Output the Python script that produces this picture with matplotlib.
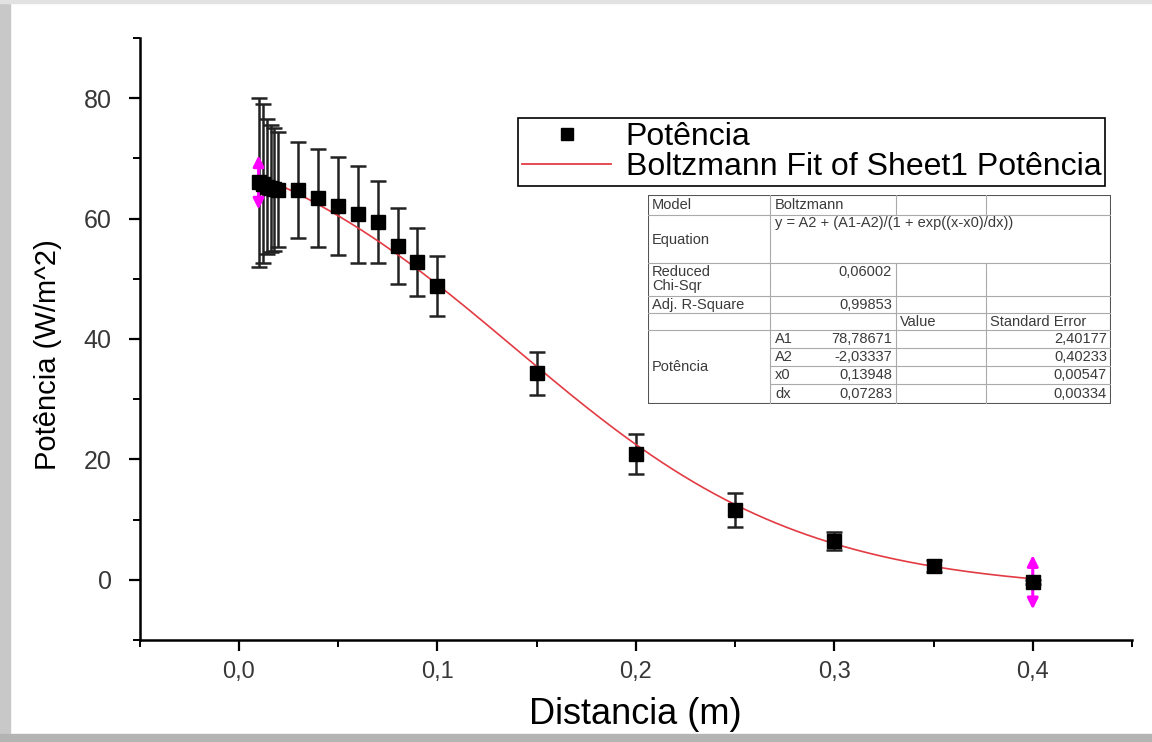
import numpy as np
import matplotlib
matplotlib.use("Agg")
import matplotlib.pyplot as plt
from matplotlib.lines import Line2D
from matplotlib.patches import Rectangle
from matplotlib.ticker import MultipleLocator, FuncFormatter

plt.rcParams['font.family'] = ['Liberation Sans', 'DejaVu Sans']

dist = [0.010, 0.012, 0.014, 0.016, 0.018, 0.020, 0.03, 0.04, 0.05, 0.06,
        0.07, 0.08, 0.09, 0.10, 0.15, 0.20, 0.25, 0.30, 0.35, 0.40]
pot = [66.0, 65.8, 65.3, 65.0, 64.9, 64.8, 64.7, 63.4, 62.1, 60.7,
       59.4, 55.4, 52.8, 48.8, 34.3, 20.9, 11.6, 6.4, 2.3, -0.4]
pot_err = [14.0, 13.2, 11.2, 10.6, 10.2, 9.6, 8.0, 8.1, 8.1, 8.0,
           6.8, 6.3, 5.7, 5.0, 3.6, 3.4, 2.9, 1.5, 1.0, 0.3]

# Boltzmann fit parameters (from the fit table)
A1, A2, x0, dx = 78.78671, -2.03337, 0.13948, 0.07283

# fit table contents
tab_stats = ["0,06002", "0,99853"]
tab_params = ["A1", "A2", "x0", "dx"]
tab_values = ["78,78671", "-2,03337", "0,13948", "0,07283"]
tab_errors = ["2,40177", "0,40233", "0,00547", "0,00334"]

W, H = 1152, 742
fig = plt.figure(figsize=(W / 100, H / 100), dpi=100)
fig.patch.set_facecolor('white')
# grey frame of the screenshot
fig.patches.append(Rectangle((0, 0), 10 / W, 1, transform=fig.transFigure, color='#c8c8c8', zorder=-5))
fig.patches.append(Rectangle((0, 0), 1, 8 / H, transform=fig.transFigure, color='#b4b4b4', zorder=-5))
fig.patches.append(Rectangle((0, 1 - 3 / H), 1, 3 / H, transform=fig.transFigure, color='#e2e2e2', zorder=-5))

ax = fig.add_axes([139.5 / W, 1 - 640 / H, (1132 - 139.5) / W, (640 - 38) / H])
ax.set_xlim(-0.05, 0.45)
ax.set_ylim(-10, 90)

ax.errorbar(dist, pot, yerr=pot_err, fmt='none', ecolor='#222222', elinewidth=1.8,
            capsize=5.5, capthick=1.8, zorder=2)

xf = np.linspace(dist[0], dist[-1], 300)
yf = A2 + (A1 - A2) / (1 + np.exp((xf - x0) / dx))
ax.plot(xf, yf, color='#e33b43', lw=1.2, zorder=2.5)

# data-range markers (magenta double arrows) at first and last points
for i in (0, -1):
    ax.annotate('', xy=(dist[i], pot[i] + 4.5), xytext=(dist[i], pot[i] - 4.5),
                arrowprops=dict(arrowstyle='<|-|>', color='#ff00ff', lw=2.2,
                                mutation_scale=16, shrinkA=0, shrinkB=0),
                zorder=2.8)

ax.plot(dist, pot, 's', color='black', ms=10.5, zorder=3)

for s in ('top', 'right'):
    ax.spines[s].set_visible(False)
for s in ('left', 'bottom'):
    ax.spines[s].set_linewidth(1.8)

ax.xaxis.set_major_locator(MultipleLocator(0.1))
ax.xaxis.set_minor_locator(MultipleLocator(0.05))
ax.yaxis.set_major_locator(MultipleLocator(20))
ax.yaxis.set_minor_locator(MultipleLocator(10))
ax.xaxis.set_major_formatter(FuncFormatter(lambda v, p: f"{v:.1f}".replace('.', ',').replace('-0,0', '0,0')))
ax.tick_params(which='major', direction='out', length=8, width=1.6,
               labelcolor='#383838')
ax.tick_params(axis='y', which='major', labelsize=18, pad=12)
ax.tick_params(axis='x', which='major', labelsize=17, pad=7)
ax.tick_params(which='minor', direction='out', length=5, width=1.4)

ax.set_xlabel("Distancia (m)", fontsize=26, labelpad=10)
ax.set_ylabel("Potência (W/m^2)", fontsize=21)
ax.yaxis.set_label_coords((62 - 139.5) / 992.5, (640 - 355) / 602)

handles = [Line2D([], [], ls='none', marker='s', color='black', ms=9),
           Line2D([], [], color='#e33b43', lw=1.3)]
leg = ax.legend(handles, ["Potência", "Boltzmann Fit of Sheet1 Potência"],
                loc='upper left', bbox_to_anchor=(518 / W, 1 - 118 / H),
                bbox_transform=fig.transFigure, fontsize=23, frameon=True,
                fancybox=False, edgecolor='black', framealpha=1,
                borderaxespad=0, borderpad=0.12, handlelength=2.8,
                handletextpad=0.45, labelspacing=0.0)
leg.get_frame().set_linewidth(1.2)

# fit results table, drawn in pixel units
tl, tr, tt, tb = 648, 1111, 195, 404
axt = fig.add_axes([tl / W, 1 - tb / H, (tr - tl) / W, (tb - tt) / H])
axt.set_xlim(tl, tr)
axt.set_ylim(tb, tt)
axt.axis('off')
axt.add_patch(Rectangle((tl, tt), tr - tl, tb - tt, facecolor='white', edgecolor='#555555', lw=1.5))
rows = [195, 215, 263, 296, 313, 330, 348, 366, 384, 404]
c1, c2, c3 = 770, 896, 986
gc = '#aaaaaa'
for r in rows[1:6]:
    axt.plot([tl, tr], [r, r], color=gc, lw=0.8)
for r in rows[6:9]:
    axt.plot([c1, tr], [r, r], color=gc, lw=0.8)
axt.plot([c1, c1], [tt, tb], color=gc, lw=0.8)
for c in (c2, c3):
    axt.plot([c, c], [rows[0], rows[1]], color=gc, lw=0.8)
    axt.plot([c, c], [rows[2], tb], color=gc, lw=0.8)

tk = dict(fontsize=10.5, color='#3a3a3a', va='center')
axt.text(652, 205, "Model", **tk)
axt.text(775, 205, "Boltzmann", **tk)
axt.text(652, 240, "Equation", **tk)
axt.text(775, 223, "y = A2 + (A1-A2)/(1 + exp((x-x0)/dx))", **tk)
axt.text(652, 279, "Reduced\nChi-Sqr", linespacing=0.95, **tk)
axt.text(892, 272, tab_stats[0], ha='right', **tk)
axt.text(652, 304.5, "Adj. R-Square", **tk)
axt.text(892, 304.5, tab_stats[1], ha='right', **tk)
axt.text(900, 321.5, "Value", **tk)
axt.text(990, 321.5, "Standard Error", **tk)
axt.text(652, 367, "Potência", **tk)
for k in range(4):
    yc = (rows[5 + k] + rows[6 + k]) / 2
    axt.text(775, yc, tab_params[k], **tk)
    axt.text(892, yc, tab_values[k], ha='right', **tk)
    axt.text(1107, yc, tab_errors[k], ha='right', **tk)

fig.savefig("out.png", dpi=100, facecolor=fig.get_facecolor())
